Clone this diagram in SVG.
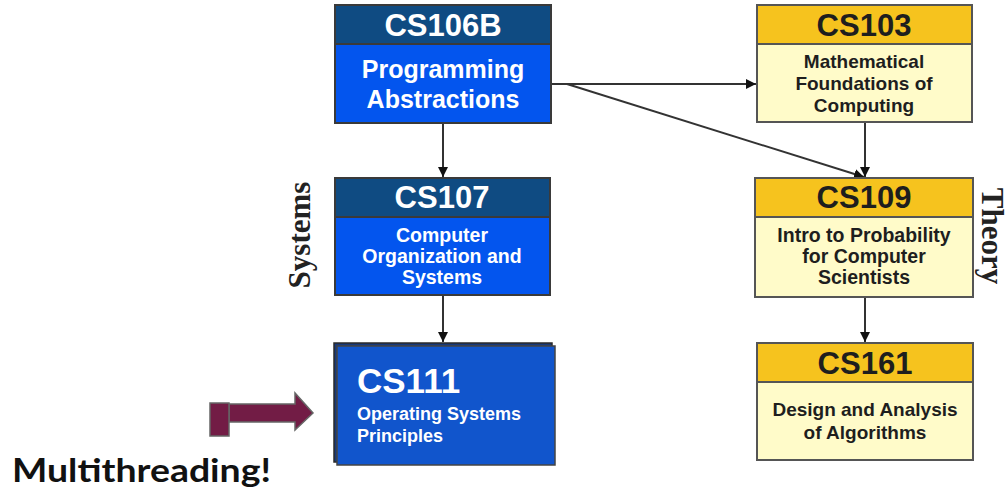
<svg xmlns="http://www.w3.org/2000/svg" width="1008" height="490" viewBox="0 0 1008 490">
  <style>
    .hdr-blue { fill: #0f4b82; stroke: #3a3a3a; stroke-width: 2; }
    .body-blue { fill: #0355ee; stroke: #3a3a3a; stroke-width: 2; }
    .hdr-yel { fill: #f6c31e; stroke: #555; stroke-width: 2; }
    .body-yel { fill: #fffbc9; stroke: #555; stroke-width: 2; }
    .title { font-family: "Liberation Sans", Arial, sans-serif; font-weight: bold; font-size: 31px; text-anchor: middle; }
    .sub { font-family: "Liberation Sans", Arial, sans-serif; font-weight: bold; text-anchor: middle; }
    .w { fill: #ffffff; }
    .k { fill: #1e1e1e; }
    .side { font-family: "Liberation Serif", "Times New Roman", serif; font-weight: bold; font-size: 31px; fill: #222; text-anchor: middle; }
    .edge { stroke: #333; stroke-width: 2; fill: none; marker-end: url(#tip); }
  </style>
  <defs>
    <marker id="tip" viewBox="0 0 10 10" refX="10" refY="5" markerWidth="5" markerHeight="5" orient="auto" markerUnits="strokeWidth">
      <path d="M0,0 L10,5 L0,10 Z" fill="#111"/>
    </marker>
  </defs>

  <rect width="1008" height="490" fill="#ffffff"/>

  <!-- prerequisite connectors -->
  <g id="connectors">
    <line class="edge" x1="443" y1="123" x2="443" y2="177"/>
    <line class="edge" x1="443" y1="296" x2="443" y2="342"/>
    <line class="edge" x1="551" y1="84" x2="756" y2="84"/>
    <line class="edge" x1="567" y1="84" x2="864" y2="177"/>
    <line class="edge" x1="865" y1="122" x2="865" y2="177"/>
    <line class="edge" x1="865" y1="297" x2="865" y2="342"/>
  </g>

  <g id="cs106b">
    <rect class="body-blue" x="335" y="44" width="216" height="79"/>
    <rect class="hdr-blue" x="335" y="5" width="216" height="39"/>
    <text class="title w" x="443" y="36">CS106B</text>
    <text class="sub w" font-size="25" x="443" y="78">Programming</text>
    <text class="sub w" font-size="25" x="443" y="108">Abstractions</text>
  </g>

  <g id="cs103">
    <rect class="body-yel" x="757" y="44" width="215" height="78"/>
    <rect class="hdr-yel" x="757" y="5" width="215" height="39"/>
    <text class="title k" x="864" y="36">CS103</text>
    <text class="sub k" font-size="19" x="864" y="68">Mathematical</text>
    <text class="sub k" font-size="19" x="864" y="90">Foundations of</text>
    <text class="sub k" font-size="19" x="864" y="112">Computing</text>
  </g>

  <g id="cs107">
    <rect class="body-blue" x="335" y="217" width="215" height="78"/>
    <rect class="hdr-blue" x="335" y="178" width="215" height="39"/>
    <text class="title w" x="442" y="208">CS107</text>
    <text class="sub w" font-size="19.5" x="442" y="242">Computer</text>
    <text class="sub w" font-size="19.5" x="442" y="263">Organization and</text>
    <text class="sub w" font-size="19.5" x="442" y="284">Systems</text>
  </g>

  <g id="cs109">
    <rect class="body-yel" x="755" y="217" width="218" height="80"/>
    <rect class="hdr-yel" x="755" y="178" width="218" height="39"/>
    <text class="title k" x="864" y="208">CS109</text>
    <text class="sub k" font-size="19.5" x="864" y="242">Intro to Probability</text>
    <text class="sub k" font-size="19.5" x="864" y="263">for Computer</text>
    <text class="sub k" font-size="19.5" x="864" y="284">Scientists</text>
  </g>

  <g id="cs111">
    <rect x="334" y="343" width="218" height="119" fill="#17397a" stroke="#2a2a2a" stroke-width="1.5"/>
    <rect x="337" y="346" width="218" height="119" fill="#1155cc" stroke="#444" stroke-width="1.5"/>
    <text x="357" y="393" fill="#ffffff" font-family="Liberation Sans, Arial, sans-serif" font-weight="bold" font-size="35">CS111</text>
    <text x="357" y="420" fill="#ffffff" font-family="Liberation Sans, Arial, sans-serif" font-weight="bold" font-size="18">Operating Systems</text>
    <text x="357" y="442" fill="#ffffff" font-family="Liberation Sans, Arial, sans-serif" font-weight="bold" font-size="18">Principles</text>
  </g>

  <g id="cs161">
    <rect class="body-yel" x="757" y="382" width="216" height="78"/>
    <rect class="hdr-yel" x="757" y="343" width="216" height="39"/>
    <text class="title k" x="865" y="374">CS161</text>
    <text class="sub k" font-size="19" x="865" y="416">Design and Analysis</text>
    <text class="sub k" font-size="19" x="865" y="439">of Algorithms</text>
  </g>

  <!-- track labels -->
  <g id="track-systems">
    <text class="side" transform="translate(310,235) rotate(-90)">Systems</text>
  </g>
  <g id="track-theory">
    <text class="side" transform="translate(982,236) rotate(90)">Theory</text>
  </g>

  <!-- callout pointing at CS111 -->
  <g id="callout">
    <path d="M229,404 L295,404 L295,393 L313,413 L295,430 L295,422 L229,422 Z" fill="#721c45" stroke="#666" stroke-width="1.5"/>
    <rect x="210" y="403" width="19" height="33" fill="#721c45" stroke="#666" stroke-width="1.5"/>
    <text x="12" y="482" fill="#111" font-family="Lato, Liberation Sans, sans-serif" font-weight="bold" font-size="33" textLength="259" lengthAdjust="spacingAndGlyphs">Multithreading!</text>
  </g>
</svg>
